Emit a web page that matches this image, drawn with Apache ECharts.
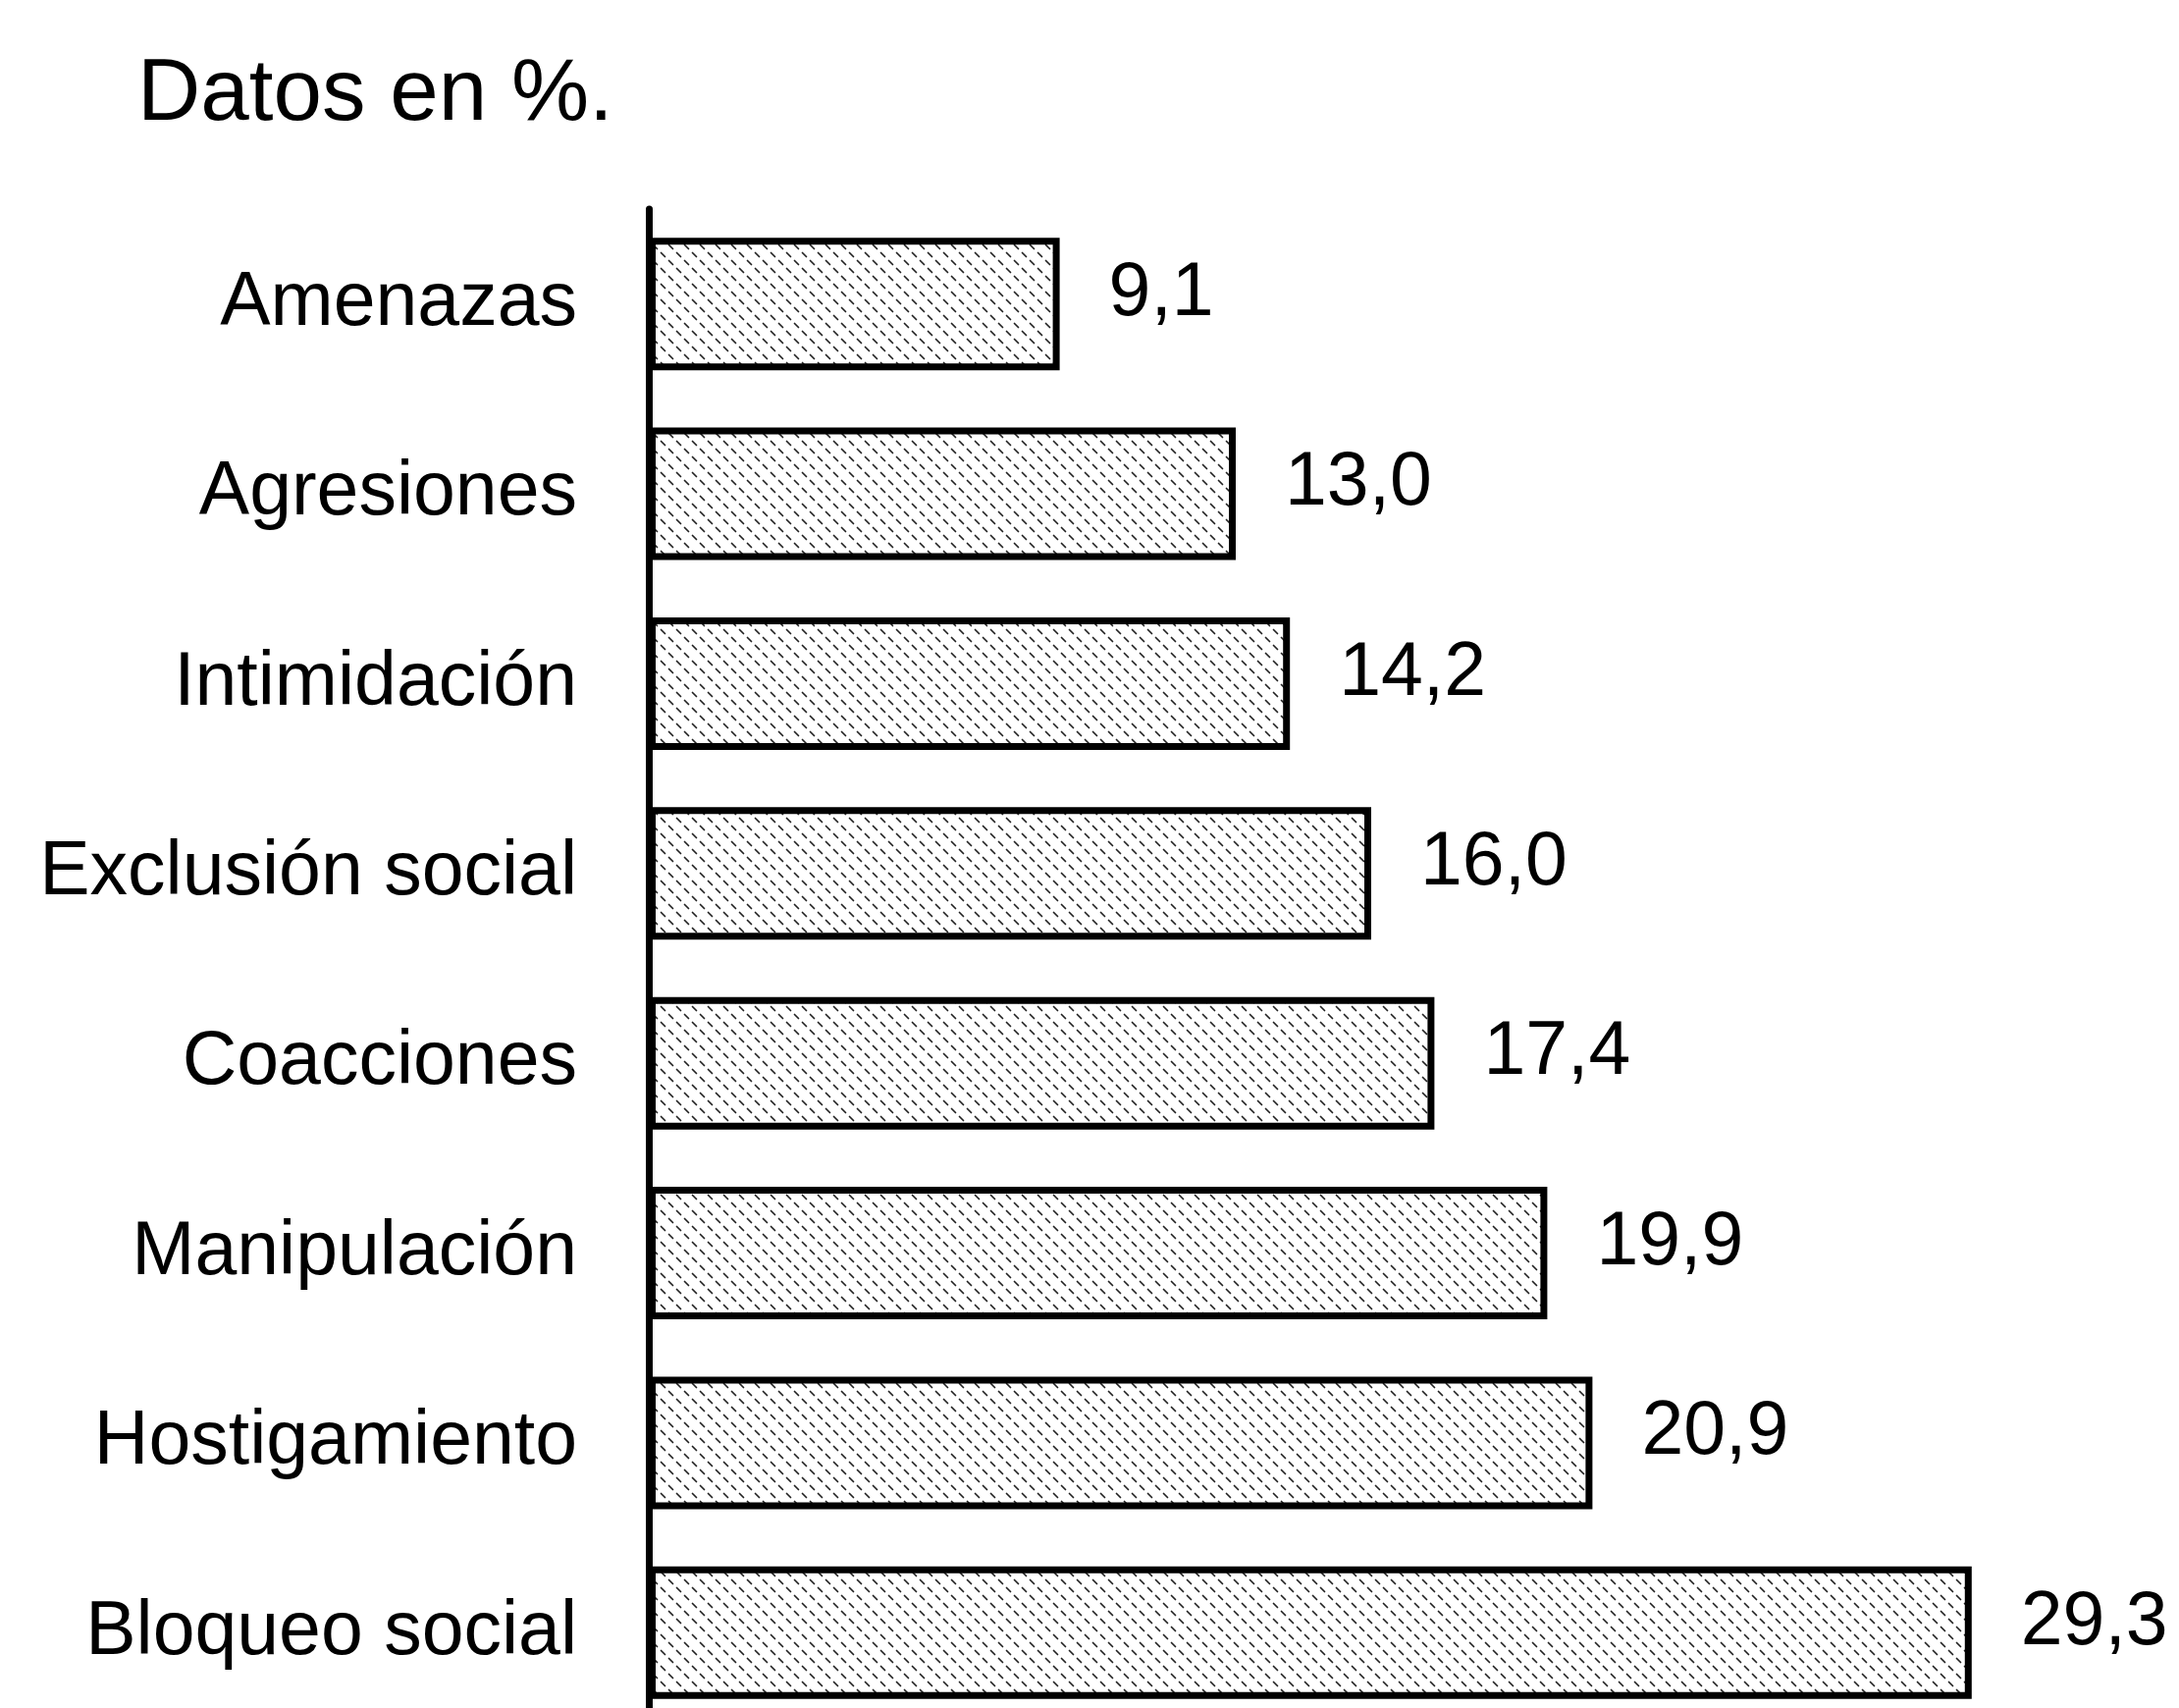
<!DOCTYPE html>
<html>
<head>
<meta charset="utf-8">
<script src="https://cdn.jsdelivr.net/npm/echarts@6/dist/echarts.min.js"></script>
<style>
html,body{margin:0;padding:0;background:#fff;}
#chart{width:2220px;height:1740px;}
</style>
</head>
<body>
<div id="chart"></div>
<script>
const titleText = 'Datos en %.';
const categories = ['Amenazas','Agresiones','Intimidación','Exclusión social','Coacciones','Manipulación','Hostigamiento','Bloqueo social'];
const values = [9.1, 13.0, 14.2, 16.0, 17.4, 19.9, 20.9, 29.3];

// hatch pattern tile
const tile = document.createElement('canvas');
tile.width = 16; tile.height = 16;
const ctx = tile.getContext('2d');
ctx.fillStyle = '#ffffff';
ctx.fillRect(0,0,16,16);
ctx.strokeStyle = '#222222';
ctx.lineWidth = 1.7;
ctx.lineCap = 'round';
ctx.beginPath();
ctx.moveTo(1.5,1.5); ctx.lineTo(5.5,5.5);
ctx.moveTo(9.5,9.5); ctx.lineTo(13.5,13.5);
ctx.stroke();

const chart = echarts.init(document.getElementById('chart'));
const font = '"Liberation Sans", Arial, Helvetica, sans-serif';
chart.setOption({
  animation: false,
  backgroundColor: '#ffffff',
  title: {
    text: titleText,
    left: 135,
    top: 48,
    textStyle: {fontFamily: font, fontSize: 89, fontWeight: 'normal', color: '#000'}
  },
  grid: {
    left: 661,
    top: 213,
    width: 30 * 46.0,
    height: 1547,
    outerBoundsMode: 'none',
    containLabel: false
  },
  xAxis: {
    type: 'value',
    min: 0,
    max: 30,
    show: false
  },
  yAxis: {
    type: 'category',
    data: categories,
    inverse: true,
    axisLine: {show: true, lineStyle: {color: '#000', width: 7}},
    axisTick: {show: false},
    splitLine: {show: false},
    axisLabel: {
      margin: 73,
      fontFamily: font,
      fontSize: 77,
      color: '#000',
      padding: [0,0,20,0]
    }
  },
  series: [{
    type: 'bar',
    data: values,
    barWidth: 135,
    itemStyle: {
      color: {image: tile, repeat: 'repeat'},
      borderColor: '#000',
      borderWidth: 7
    },
    label: {
      show: true,
      position: 'right',
      distance: 50,
      offset: [0, -10],
      fontFamily: font,
      fontSize: 77,
      color: '#000',
      formatter: p => p.value.toFixed(1).replace('.', ',')
    }
  }]
});
</script>
</body>
</html>
